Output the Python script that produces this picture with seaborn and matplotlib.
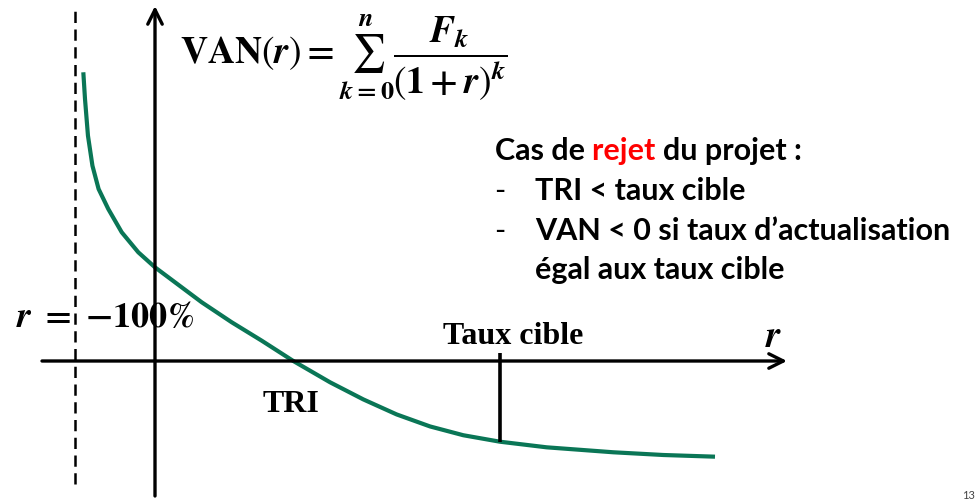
import matplotlib
matplotlib.use("Agg")
import matplotlib.pyplot as plt
import seaborn as sns
import pandas as pd

# ---------------- data ----------------
curve_r = [-0.896, -0.875, -0.838, -0.782, -0.705, -0.584, -0.416, -0.209, 0.000,
           0.250, 0.584, 0.959, 1.334, 1.729, 2.188, 2.604, 3.021, 3.438, 3.854,
           4.313, 4.896, 5.729, 6.354, 7.000]
curve_van = [3.609, 3.275, 2.816, 2.441, 2.150, 1.900, 1.609, 1.359, 1.171,
             0.984, 0.734, 0.484, 0.254, 0.000, -0.266, -0.480, -0.668, -0.818, -0.928,
             -1.009, -1.079, -1.141, -1.175, -1.196]
r_limit = -1.0          # r = -100 %
tri = 1.729             # internal rate of return
taux_cible = 4.313      # target rate
van_at_cible = -1.009

formula = (r'$\mathbf{VAN}\left(\mathbfit{r}\right)\mathbf{=}'
           r'\sum_{\mathbfit{k}\mathbf{=0}}^{\mathbfit{n}}'
           r'\dfrac{\mathbfit{F}_{\mathbfit{k}}}{\left(\mathbf{1+}\mathbfit{r}\right)^{\mathbfit{k}}}$')
limit_label = r'$\mathbfit{r}\ \mathbf{=}\ \mathbf{-100\%}$'
axis_label = r'$\mathbfit{r}$'
tri_label = "TRI"
cible_label = "Taux cible"
title_parts = ["Cas de", "rejet", "du projet :"]
bullets = ["TRI < taux cible", "VAN < 0 si taux d’actualisation"]
continuation = "égal aux taux cible"
page_number = "13"

# ---------------- style ----------------
sns.set_style("white")
plt.rcParams["mathtext.fontset"] = "stix"
plt.rcParams["font.family"] = ["Liberation Serif", "DejaVu Serif"]

GREEN = "#0A7656"
W, H = 977, 502
OX, OY, S = 155, 362, 80.0   # pixel of origin and pixels per unit


def P(px, py):
    return (px - OX) / S, (OY - py) / S


fig = plt.figure(figsize=(W / 100, H / 100), dpi=100)
ax = fig.add_axes([0, 0, 1, 1])
ax.set_xlim(-OX / S, (W - OX) / S)
ax.set_ylim((OY - H) / S, OY / S)
ax.axis("off")

df = pd.DataFrame({"r": curve_r, "van": curve_van})
sns.lineplot(data=df, x="r", y="van", sort=False, estimator=None,
             color=GREEN, lw=3.0, ax=ax, solid_capstyle="butt",
             solid_joinstyle="round")

# axes with arrows
arrow = dict(arrowstyle="->", lw=2.4, color="black", mutation_scale=26,
             shrinkA=0, shrinkB=0)
ax.annotate("", xy=P(787, OY), xytext=P(42, OY), arrowprops=arrow)
ax.annotate("", xy=P(OX, 7), xytext=P(OX, 497), arrowprops=arrow)

# asymptote r = -100%
y0, y1 = P(0, 485)[1], P(0, 7)[1]
ax.plot([r_limit, r_limit], [y0, y1], color="black", lw=1.8,
        dashes=(4.5, 2.6))

# target-rate marker
ax.plot([taux_cible, taux_cible], [P(0, 354)[1], van_at_cible],
        color="black", lw=2.6, solid_capstyle="butt")

# texts
ax.text(*P(180, 57), formula, fontsize=27, ha="left", va="center", color="black")
ax.text(*P(16, 319), limit_label, fontsize=26, ha="left", va="center", color="black")
ax.text(*P(765, 347), axis_label, fontsize=27, ha="left", va="baseline", color="black")
ax.text(*P(263, 412), tri_label, fontsize=23, fontweight="bold",
        ha="left", va="baseline", color="black")
ax.text(*P(443, 344), cible_label, fontsize=23, fontweight="bold",
        ha="left", va="baseline", color="black")

sans = ["Lato", "DejaVu Sans"]
fs = 22
t1 = ax.text(*P(495, 160), title_parts[0] + " ", fontsize=fs, fontweight="bold",
             family=sans, ha="left", va="baseline", color="black")
t2 = ax.annotate(title_parts[1] + " ", xy=(1, 0), xycoords=t1, fontsize=fs,
                 fontweight="bold", family=sans, ha="left", va="bottom", color="#FF0000")
ax.annotate(title_parts[2], xy=(1, 0), xycoords=t2, fontsize=fs,
            fontweight="bold", family=sans, ha="left", va="bottom", color="black")

for i, b in enumerate(bullets):
    yb = 200 + 40 * i
    ax.text(*P(494, yb), "-", fontsize=fs, family=sans, ha="left", va="baseline", color="black")
    ax.text(*P(535, yb), b, fontsize=fs, fontweight="bold", family=sans,
            ha="left", va="baseline", color="black")
ax.text(*P(535, 279), continuation, fontsize=fs, fontweight="bold", family=sans,
        ha="left", va="baseline", color="black")

ax.text(*P(975, 501), page_number, fontsize=8, family=sans, ha="right", va="bottom",
        color="#444444")

fig.savefig("out.png", dpi=100, facecolor="white")
